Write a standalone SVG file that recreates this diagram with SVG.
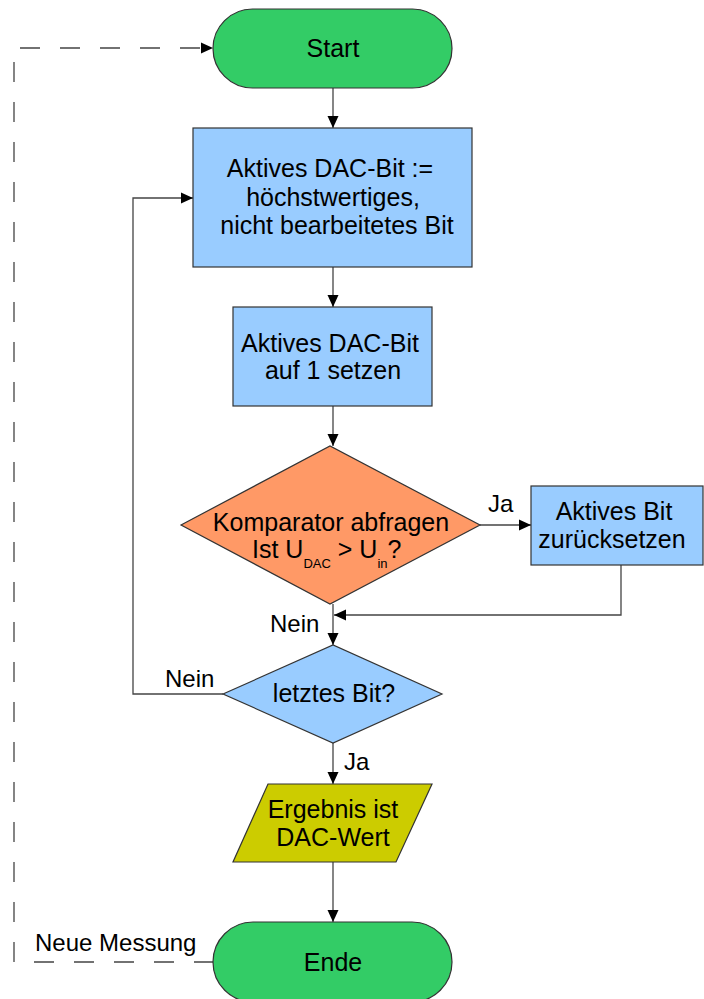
<svg xmlns="http://www.w3.org/2000/svg" width="704" height="999" viewBox="0 0 704 999">
<style>
.t{font-family:"Liberation Sans",Arial,sans-serif;font-size:25px;fill:#000;text-anchor:middle}
.s{font-family:"Liberation Sans",Arial,sans-serif;font-size:25px;fill:#000;text-anchor:start}
.l{font-family:"Liberation Sans",Arial,sans-serif;font-size:24px;fill:#000}
.sub{font-size:13px}
.n{stroke:#333;stroke-width:1.2}
.c{fill:none;stroke:#444;stroke-width:1.3}
.d{fill:none;stroke:#444;stroke-width:1.3;stroke-dasharray:20 20}
</style>
<defs>
<marker id="a" viewBox="0 0 12 12" refX="12" refY="6" markerWidth="12" markerHeight="12" markerUnits="userSpaceOnUse" orient="auto">
<path d="M0,0.5 L12,6 L0,11.5 Z" fill="#000"/>
</marker>
</defs>
<g id="connectors">
<line class="c" x1="333" y1="88" x2="333" y2="128" marker-end="url(#a)"/>
<line class="c" x1="333" y1="267" x2="333" y2="307" marker-end="url(#a)"/>
<line class="c" x1="333" y1="406" x2="333" y2="446" marker-end="url(#a)"/>
<line class="c" x1="480" y1="525" x2="531" y2="525" marker-end="url(#a)"/>
<path class="c" d="M621,565 V615 H334" marker-end="url(#a)"/>
<line class="c" x1="333" y1="604" x2="333" y2="645" marker-end="url(#a)"/>
<path class="c" d="M223,694 H133 V198 H193" marker-end="url(#a)"/>
<line class="c" x1="333" y1="743" x2="333" y2="784" marker-end="url(#a)"/>
<line class="c" x1="333" y1="862" x2="333" y2="922" marker-end="url(#a)"/>
<path class="d" d="M213,962 H14 V48 H213" marker-end="url(#a)" stroke-dashoffset="1"/>
<text class="l" x="488" y="512">Ja</text>
<text class="l" x="270" y="632">Nein</text>
<text class="l" x="165" y="687">Nein</text>
<text class="l" x="344" y="770">Ja</text>
<text class="l" x="35" y="951">Neue Messung</text>
</g>
<g id="start">
<rect class="n" x="213" y="9" width="239" height="79" rx="39.5" fill="#33cc66"/>
<text class="t" x="333" y="57">Start</text>
</g>
<g id="box1">
<rect class="n" x="193" y="128" width="279" height="139" fill="#99ccff"/>
<text class="t" x="330" y="177">Aktives DAC-Bit :=</text>
<text class="t" x="333" y="206">höchstwertiges,</text>
<text class="t" x="337" y="234">nicht bearbeitetes Bit</text>
</g>
<g id="box2">
<rect class="n" x="233" y="307" width="199" height="99" fill="#99ccff"/>
<text class="t" x="330" y="352">Aktives DAC-Bit</text>
<text class="t" x="333" y="379">auf 1 setzen</text>
</g>
<g id="decision1">
<polygon class="n" points="181,525 330,446 480,525 330,604" fill="#ff9966"/>
<text class="t" x="331" y="531">Komparator abfragen</text>
<text class="s" x="252" y="558">Ist U<tspan class="sub" dy="10">DAC</tspan><tspan dy="-10"> &gt; U</tspan><tspan class="sub" dy="10">in</tspan><tspan dy="-10">?</tspan></text>
</g>
<g id="box3">
<rect class="n" x="531" y="486" width="172" height="79" fill="#99ccff"/>
<text class="t" x="614" y="520">Aktives Bit</text>
<text class="t" x="612" y="548">zurücksetzen</text>
</g>
<g id="decision2">
<polygon class="n" points="223,694 333,645 442,694 333,743" fill="#99ccff"/>
<text class="t" x="334" y="702">letztes Bit?</text>
</g>
<g id="output">
<polygon class="n" points="268,784 432,784 396,862 233,862" fill="#cccc00"/>
<text class="t" x="333" y="818">Ergebnis ist</text>
<text class="t" x="333" y="846">DAC-Wert</text>
</g>
<g id="ende">
<rect class="n" x="213" y="922" width="239" height="80" rx="40" fill="#33cc66"/>
<text class="t" x="333" y="971">Ende</text>
</g>
</svg>
